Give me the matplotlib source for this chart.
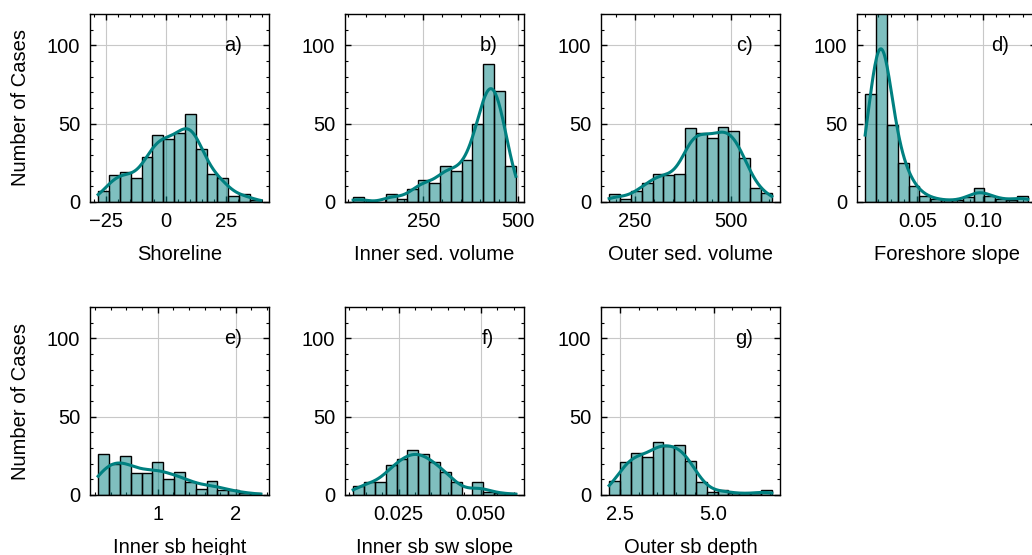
import numpy as np
import matplotlib
matplotlib.use("Agg")
import matplotlib.pyplot as plt
import seaborn as sns
from matplotlib.ticker import MultipleLocator, AutoMinorLocator

# ---------------- data ----------------
shoreline_range = [-28.2, 39.7]
shoreline_counts = [7, 17, 19, 15, 29, 43, 40, 44, 56, 34, 18, 15, 4, 5, 1]

inner_vol_range = [64.8, 494.0]
inner_vol_counts = [3, 0, 0, 5, 2, 8, 14, 12, 23, 20, 27, 50, 88, 71, 23]

outer_vol_range = [182.0, 607.0]
outer_vol_counts = [5, 2, 7, 12, 18, 17, 18, 47, 44, 41, 48, 45, 28, 9, 6]

foreshore_range = [0.0102, 0.134]
foreshore_counts = [69, 150, 49, 25, 10, 4, 2, 1, 1, 3, 9, 4, 2, 1, 4]

inner_h_range = [0.238, 2.32]
inner_h_counts = [26, 20, 25, 14, 14, 21, 10, 15, 8, 4, 9, 3, 3, 1, 1]

inner_sw_range = [0.0112, 0.0607]
inner_sw_counts = [6, 8, 8, 19, 23, 29, 26, 21, 15, 8, 0, 8, 2, 1, 1]

outer_depth_range = [2.216, 6.556]
outer_depth_counts = [9, 21, 27, 24, 34, 31, 32, 22, 8, 2, 3, 1, 1, 1, 3]

x_labels = ["Shoreline", "Inner sed. volume", "Outer sed. volume", "Foreshore slope",
            "Inner sb height", "Inner sb sw slope", "Outer sb depth"]
panel_tags = ["a)", "b)", "c)", "d)", "e)", "f)", "g)"]
x_major_steps = [25, 250, 250, 0.05, 1, 0.025, 2.5]
y_label = "Number of Cases"
y_ticks = [0, 50, 100]

ranges = [shoreline_range, inner_vol_range, outer_vol_range, foreshore_range,
          inner_h_range, inner_sw_range, outer_depth_range]
counts = [shoreline_counts, inner_vol_counts, outer_vol_counts, foreshore_counts,
          inner_h_counts, inner_sw_counts, outer_depth_counts]

# ---------------- style ----------------
plt.rcParams["font.family"] = ["Liberation Sans", "DejaVu Sans"]
plt.rcParams["font.size"] = 14.5
plt.rcParams["axes.linewidth"] = 1.0
plt.rcParams["axes.axisbelow"] = True
for ax_ in ("xtick", "ytick"):
    plt.rcParams[f"{ax_}.direction"] = "in"
    plt.rcParams[f"{ax_}.major.size"] = 4
    plt.rcParams[f"{ax_}.minor.size"] = 2.2
    plt.rcParams[f"{ax_}.major.width"] = 1.0
    plt.rcParams[f"{ax_}.minor.width"] = 0.8
    plt.rcParams[f"{ax_}.major.pad"] = 7
    plt.rcParams[f"{ax_}.minor.visible"] = True
plt.rcParams["xtick.top"] = True
plt.rcParams["ytick.right"] = True

W, H = 1032, 555
fig = plt.figure(figsize=(W / 100, H / 100), dpi=100)

lefts = [90, 345, 601, 857]
row_tops = [14, 307]
ax_w = 179
ax_h = 188

for i in range(7):
    row, col = divmod(i, 4)
    left = lefts[col]
    top = row_tops[row]
    ax = fig.add_axes([left / W, (H - top - ax_h) / H, ax_w / W, ax_h / H])

    lo, hi = ranges[i]
    c = np.asarray(counts[i])
    edges = np.linspace(lo, hi, len(c) + 1)
    centers = 0.5 * (edges[:-1] + edges[1:])
    samples = np.repeat(centers, c)

    sns.histplot(x=samples, bins=edges, kde=True, color="teal", alpha=0.5,
                 edgecolor="black", linewidth=1.0,
                 kde_kws={"cut": 3, "clip": (lo, hi)},
                 line_kws={"linewidth": 2.2}, ax=ax)

    ax.set_ylim(0, 120)
    ax.yaxis.set_major_locator(plt.FixedLocator(y_ticks))
    ax.yaxis.set_minor_locator(MultipleLocator(10))
    ax.xaxis.set_major_locator(MultipleLocator(x_major_steps[i]))
    ax.xaxis.set_minor_locator(AutoMinorLocator(5))
    ax.grid(True, which="major", color="#c8c8c8", linewidth=0.8)
    ax.tick_params(which="both", top=True, right=True, direction="in")

    ax.set_xlabel(x_labels[i], labelpad=10)
    if col == 0:
        ax.set_ylabel(y_label, labelpad=12)
    else:
        ax.set_ylabel("")

    ax.text(0.80, 0.835, panel_tags[i], transform=ax.transAxes,
            ha="center", va="center")

fig.savefig("out.png", dpi=100)
